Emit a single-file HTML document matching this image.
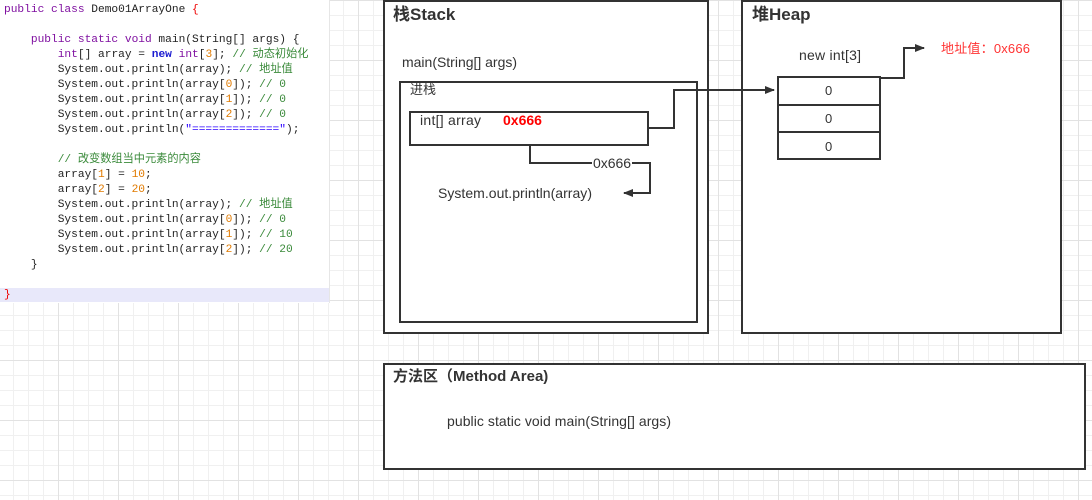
<!DOCTYPE html>
<html><head><meta charset="utf-8"><style>
body{margin:0;width:1092px;height:500px;overflow:hidden;position:relative;
background-color:#fff;
background-image:
linear-gradient(#e2e2e2 1px,transparent 1px),
linear-gradient(90deg,#e2e2e2 1px,transparent 1px),
linear-gradient(#f0f0f0 1px,transparent 1px),
linear-gradient(90deg,#f0f0f0 1px,transparent 1px);
background-size:60px 60px,60px 60px,15px 15px,15px 15px;
background-position:0 0,-2px 0,0 0,-2px 0;
font-family:"Liberation Sans","Noto Sans CJK SC",sans-serif;}
#code{position:absolute;left:0;top:0;width:329px;height:303px;background:#fff;border-right:1px solid #e6e6e6;}
#code pre{margin:0;position:absolute;left:4px;top:3px;font-family:"Liberation Mono","Noto Sans CJK SC",monospace;font-size:11.2px;line-height:15px;color:#222;}
.k{color:#7f0fa0}.b{color:#1a1ad0;font-weight:bold}.n{color:#e07a00}.c{color:#3a8a3a}.s{color:#2a00ff}
#hl{position:absolute;left:0;top:288px;width:329px;height:14px;background:#e8e8fa}
svg{position:absolute;left:0;top:0}
svg text{font-family:"Liberation Sans","Noto Sans CJK SC",sans-serif;fill:#333}
</style></head><body>
<div id="code"><div id="hl"></div><pre><span class="k">public class</span> Demo01ArrayOne <span style="color:#e00">{</span>

    <span class="k">public static void</span> main(String[] args) {
        <span class="k">int</span>[] array = <span class="b">new</span> <span class="k">int</span>[<span class="n">3</span>]; <span class="c">// 动态初始化</span>
        System.out.println(array); <span class="c">// 地址值</span>
        System.out.println(array[<span class="n">0</span>]); <span class="c">// 0</span>
        System.out.println(array[<span class="n">1</span>]); <span class="c">// 0</span>
        System.out.println(array[<span class="n">2</span>]); <span class="c">// 0</span>
        System.out.println(<span class="s">"============="</span>);

        <span class="c">// 改变数组当中元素的内容</span>
        array[<span class="n">1</span>] = <span class="n">10</span>;
        array[<span class="n">2</span>] = <span class="n">20</span>;
        System.out.println(array); <span class="c">// 地址值</span>
        System.out.println(array[<span class="n">0</span>]); <span class="c">// 0</span>
        System.out.println(array[<span class="n">1</span>]); <span class="c">// 10</span>
        System.out.println(array[<span class="n">2</span>]); <span class="c">// 20</span>
    }

<span style="color:#e00">}</span></pre></div>
<svg width="1092" height="500">
<defs><marker id="a" markerWidth="10" markerHeight="8" refX="9" refY="4" orient="auto" markerUnits="userSpaceOnUse"><path d="M0,0L10,4L0,8z" fill="#333"/></marker></defs>
<g fill="#fff" stroke="#333" stroke-width="2">
<rect x="384" y="1" width="324" height="332"/>
<rect x="742" y="1" width="319" height="332"/>
<rect x="384" y="364" width="701" height="105"/>
<rect x="400" y="82" width="297" height="240"/>
<rect x="410" y="112" width="238" height="33"/>
<rect x="778" y="77" width="102" height="28"/>
<rect x="778" y="105" width="102" height="27"/>
<rect x="778" y="132" width="102" height="27"/>
</g>
<g fill="none" stroke="#333" stroke-width="2">
<path d="M648,128H674V90H774" marker-end="url(#a)"/>
<path d="M530,145V163H650V193H624" marker-end="url(#a)"/>
<path d="M880,78H904V48H924" marker-end="url(#a)"/>
</g>
<rect x="592" y="156" width="40" height="14" fill="#fff"/>
<text x="393" y="20" font-size="17" font-weight="bold">栈Stack</text>
<text x="752" y="20" font-size="17" font-weight="bold">堆Heap</text>
<text x="393" y="381" font-size="15" font-weight="bold">方法区（Method Area)</text>
<text x="402" y="67" font-size="14" textLength="115">main(String[] args)</text>
<text x="410" y="94" font-size="13">进栈</text>
<text x="420" y="125" font-size="14" textLength="61">int[] array</text>
<text x="503" y="125" font-size="14" font-weight="bold" style="fill:#f00">0x666</text>
<text x="593" y="168" font-size="14" textLength="38">0x666</text>
<text x="438" y="198" font-size="14" textLength="154">System.out.println(array)</text>
<text x="799" y="60" font-size="14" textLength="62">new int[3]</text>
<text x="825" y="95" font-size="13">0</text>
<text x="825" y="123" font-size="13">0</text>
<text x="825" y="151" font-size="13">0</text>
<text x="941" y="53" font-size="13" style="fill:#f33" textLength="89">地址值：0x666</text>
<text x="447" y="426" font-size="14" textLength="224">public static void main(String[] args)</text>
</svg>
</body></html>
